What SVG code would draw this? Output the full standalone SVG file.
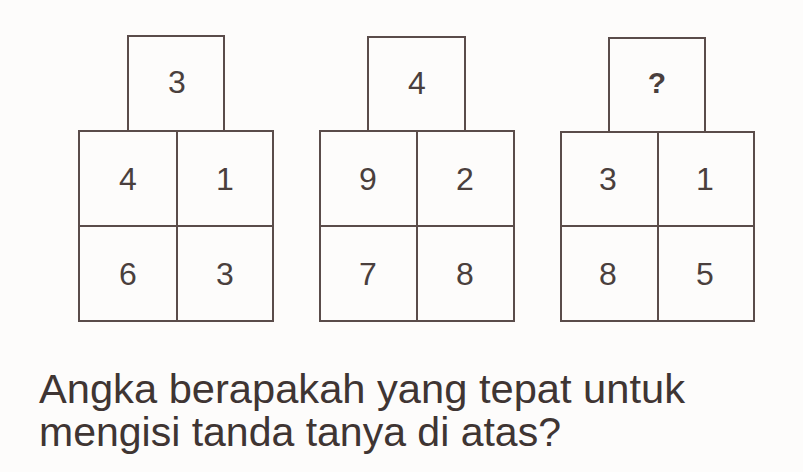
<svg xmlns="http://www.w3.org/2000/svg" width="803" height="472" viewBox="0 0 803 472">
<style>
.box{fill:none;stroke:#5a4c4a;stroke-width:2}
.d{font-family:"Liberation Sans",Arial,sans-serif;font-size:32px;fill:#4a3f3d;text-anchor:middle}
.q{font-family:"Liberation Sans",Arial,sans-serif;font-size:41px;fill:#3f3533}
</style>
<rect width="803" height="472" fill="#fdfcfb"/>
<g id="panel1">
<rect class="box" x="128" y="36" width="96" height="95"/>
<rect class="box" x="79" y="131" width="194" height="190"/>
<line class="box" x1="177" y1="131" x2="177" y2="321"/>
<line class="box" x1="79" y1="226" x2="273" y2="226"/>
<text class="d" x="177" y="93">3</text>
<text class="d" x="128" y="190">4</text>
<text class="d" x="225" y="190">1</text>
<text class="d" x="128" y="285">6</text>
<text class="d" x="225" y="285">3</text>
</g>
<g id="panel2">
<rect class="box" x="368" y="37" width="97" height="94"/>
<rect class="box" x="320" y="131" width="194" height="190"/>
<line class="box" x1="417" y1="131" x2="417" y2="321"/>
<line class="box" x1="320" y1="226" x2="514" y2="226"/>
<text class="d" x="417" y="94">4</text>
<text class="d" x="368" y="190">9</text>
<text class="d" x="465" y="190">2</text>
<text class="d" x="368" y="285">7</text>
<text class="d" x="465" y="285">8</text>
</g>
<g id="panel3">
<rect class="box" x="609" y="38" width="96" height="94"/>
<rect class="box" x="561" y="132" width="193" height="189"/>
<line class="box" x1="658" y1="132" x2="658" y2="321"/>
<line class="box" x1="561" y1="226" x2="754" y2="226"/>
<text class="d" x="657" y="93" style="font-weight:bold;font-size:30px">?</text>
<text class="d" x="608" y="190">3</text>
<text class="d" x="705" y="190">1</text>
<text class="d" x="608" y="285">8</text>
<text class="d" x="705" y="285">5</text>
</g>
<g id="question">
<text class="q" x="39" y="403" textLength="646" lengthAdjust="spacingAndGlyphs">Angka berapakah yang tepat untuk</text>
<text class="q" x="39" y="446">mengisi tanda tanya di atas?</text>
</g>
</svg>
